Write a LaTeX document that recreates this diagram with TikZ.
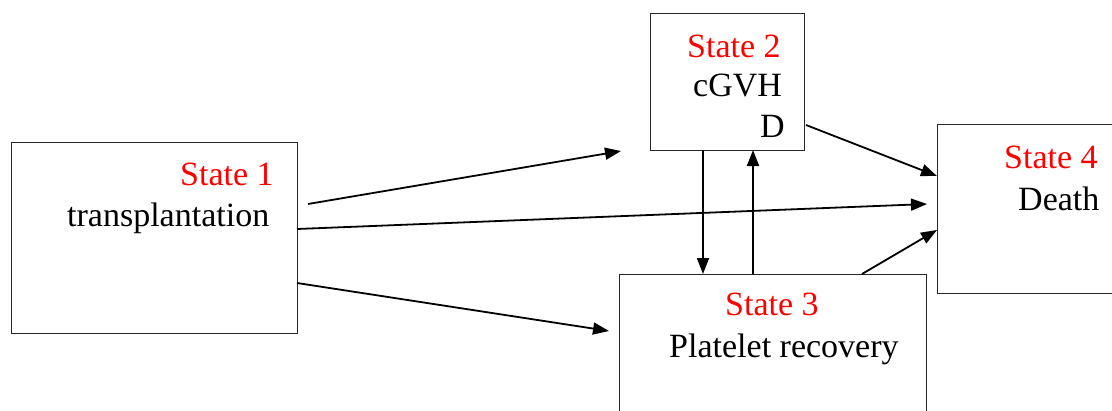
\documentclass[tikz,border=0pt]{standalone}
\usepackage{fontspec}
\setmainfont{Liberation Serif}
\usetikzlibrary{arrows.meta}
\begin{document}
\begin{tikzpicture}[x=1pt,y=-1pt,
  statebox/.style={draw=black!85,line width=1.4pt,fill=none},
  lbl/.style={inner sep=0pt,anchor=base west,font=\fontsize{34}{40}\selectfont},
  redlbl/.style={lbl,text=red},
  conn/.style={line width=1.8pt,-{Triangle[length=16pt,width=12pt]}}]
\useasboundingbox (0,0) rectangle (1112,410);
\clip (0,0) rectangle (1112,410);
% boxes
\node[statebox,anchor=north west,minimum width=286pt,minimum height=191pt,inner sep=0pt] (s1) at (11,142) {};
\node[statebox,anchor=north west,minimum width=154pt,minimum height=137pt,inner sep=0pt] (s2) at (650,13) {};
\node[statebox,anchor=north west,minimum width=307pt,minimum height=160pt,inner sep=0pt] (s3) at (619,274) {};
\node[statebox,anchor=north west,minimum width=200pt,minimum height=169pt,inner sep=0pt] (s4) at (937,124) {};
% labels
\node[redlbl] (t1a) at (180,185) {State 1};
\node[lbl] (t1b) at (67,226) {transplantation};
\node[redlbl] (t2a) at (687,57) {State 2};
\node[lbl] (t2b) at (693,96) {cGVH};
\node[lbl] (t2c) at (760,137) {D};
\node[redlbl] (t3a) at (725,315) {State 3};
\node[lbl] (t3b) at (669,357) {Platelet recovery};
\node[redlbl] (t4a) at (1004,168) {State 4};
\node[lbl] (t4b) at (1018,210) {Death};
% free ends
\coordinate (a1s) at (308,204);
\coordinate (a1e) at (621,151);
\coordinate (a2s) at (297,229);
\coordinate (a2e) at (927,204);
\coordinate (a3s) at (297,283);
\coordinate (a3e) at (609,331);
\coordinate (a4s) at (703,150);
\coordinate (a4e) at (703,274);
\coordinate (a5s) at (753,274);
\coordinate (a5e) at (753,150);
\coordinate (a6s) at (806,125);
\coordinate (a6e) at (937,176);
\coordinate (a7s) at (862,274);
\coordinate (a7e) at (937,230);
% connectors
\draw[conn] (a1s) -- (a1e);
\draw[conn] (a2s) -- (a2e);
\draw[conn] (a3s) -- (a3e);
\draw[conn] (a4s) -- (a4e);
\draw[conn] (a5s) -- (a5e);
\draw[conn] (a6s) -- (a6e);
\draw[conn] (a7s) -- (a7e);
\end{tikzpicture}
\end{document}
